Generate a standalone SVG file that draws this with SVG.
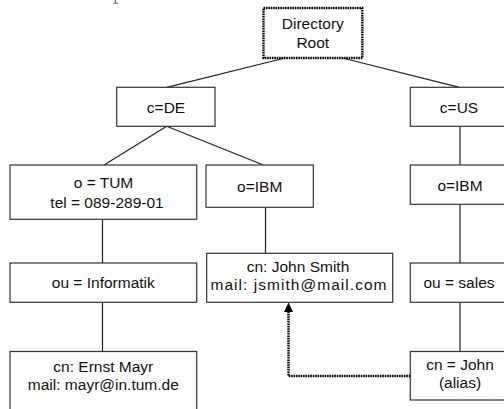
<svg xmlns="http://www.w3.org/2000/svg" width="504" height="409" viewBox="0 0 504 409">
<style>
.box{fill:#fff;stroke:#333;stroke-width:1.2}
.root{fill:#fff;stroke:#000;stroke-width:2.4;stroke-dasharray:1.6 0.8}
.t{font-family:"Liberation Sans",Arial,sans-serif;font-size:15.5px;fill:#111;text-anchor:middle}
.ln{stroke:#222;stroke-width:1.2;fill:none}
.al{stroke:#000;stroke-width:2.4;fill:none;stroke-dasharray:1.6 0.8}
</style>
<rect width="504" height="409" fill="#fff"/>
<path d="M115.5,0 V3 M113,3.2 H118" stroke="#666" stroke-width="1" fill="none"/>
<g id="connectors">
<line class="ln" x1="285" y1="58" x2="166.7" y2="87.3"/>
<line class="ln" x1="342.3" y1="58" x2="459.5" y2="87.3"/>
<line class="ln" x1="166.7" y1="126.3" x2="104" y2="165"/>
<line class="ln" x1="166.7" y1="126.3" x2="263.3" y2="165"/>
<line class="ln" x1="460" y1="126.3" x2="460" y2="165"/>
<line class="ln" x1="102.5" y1="219.3" x2="102.5" y2="263"/>
<line class="ln" x1="265.5" y1="207.3" x2="265.5" y2="253.3"/>
<line class="ln" x1="460" y1="204.3" x2="460" y2="263"/>
<line class="ln" x1="102.5" y1="302.3" x2="102.5" y2="351.5"/>
<line class="ln" x1="460" y1="302.3" x2="460" y2="351.5"/>
<path class="al" d="M410.3,376 H288.5 V312" />
<path d="M284,312 L288.5,302.5 L293,312 Z" fill="#000"/>
</g>
<g id="root">
<rect class="root" x="263.5" y="8" width="98.8" height="50"/>
<text class="t" x="312.8" y="29">Directory</text>
<text class="t" x="312.8" y="47.7">Root</text>
</g>
<g id="cDE">
<rect class="box" x="116.7" y="87.3" width="98.3" height="39"/>
<text class="t" x="166" y="112.5" font-size="16.5">c=DE</text>
</g>
<g id="cUS">
<rect class="box" x="410.3" y="87.3" width="100" height="39"/>
<text class="t" x="459" y="112.5" font-size="16.5">c=US</text>
</g>
<g id="oTUM">
<rect class="box" x="10" y="165" width="186.7" height="54.3"/>
<text class="t" x="103.5" y="187.7">o = TUM</text>
<text class="t" x="107" y="208.3">tel = 089-289-01</text>
</g>
<g id="oIBM1">
<rect class="box" x="206" y="165" width="107.3" height="42.3"/>
<text class="t" x="259.7" y="191.5" font-size="16.5">o=IBM</text>
</g>
<g id="oIBM2">
<rect class="box" x="410.3" y="165" width="100" height="39.3"/>
<text class="t" x="460" y="190.7" font-size="16.5">o=IBM</text>
</g>
<g id="ouInformatik">
<rect class="box" x="10" y="263" width="186.7" height="39.3"/>
<text class="t" x="103.3" y="288.3">ou = Informatik</text>
</g>
<g id="cnJohnSmith">
<rect class="box" x="206.7" y="253.3" width="186" height="49"/>
<text class="t" x="298" y="272">cn: John Smith</text>
<text class="t" x="298.5" y="289.7" textLength="176">mail: jsmith@mail.com</text>
</g>
<g id="ouSales">
<rect class="box" x="410.3" y="263" width="100" height="39.3"/>
<text class="t" x="459" y="288.3">ou = sales</text>
</g>
<g id="cnErnstMayr">
<rect class="box" x="10" y="351.5" width="186.7" height="70"/>
<text class="t" x="103.3" y="372">cn: Ernst Mayr</text>
<text class="t" x="103.3" y="389.5">mail: mayr@in.tum.de</text>
</g>
<g id="cnJohnAlias">
<rect class="box" x="410.3" y="351.5" width="100" height="48.5"/>
<text class="t" x="460" y="370">cn = John</text>
<text class="t" x="460" y="388">(alias)</text>
</g>
</svg>
